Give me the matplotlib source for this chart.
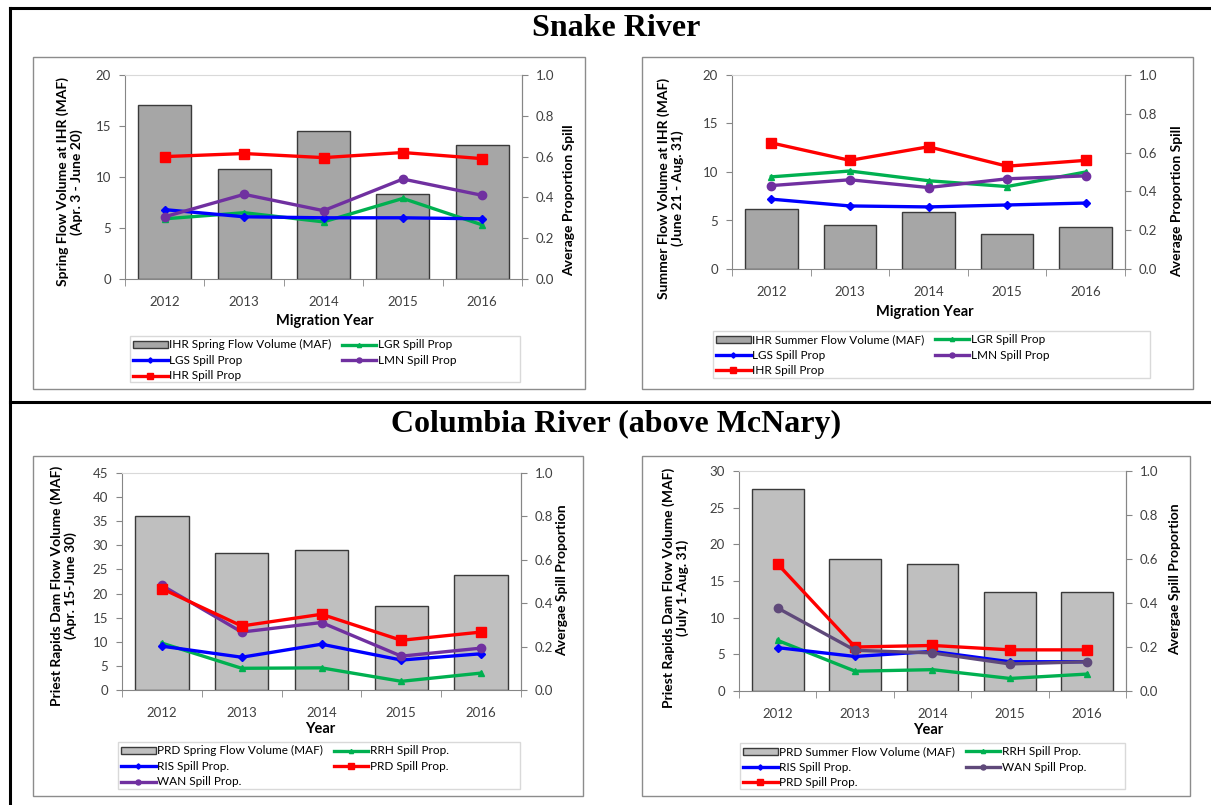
import matplotlib.pyplot as plt
import matplotlib.patches as mpatches
import matplotlib.lines as mlines
import numpy as np

W, H = 1211, 805

years = ["2012", "2013", "2014", "2015", "2016"]

# Snake River - spring
snake_spring_flow = [17.1, 10.8, 14.5, 8.3, 13.1]
snake_spring_lgr = [0.295, 0.325, 0.28, 0.395, 0.265]
snake_spring_lgs = [0.34, 0.305, 0.30, 0.30, 0.295]
snake_spring_lmn = [0.305, 0.415, 0.335, 0.49, 0.41]
snake_spring_ihr = [0.60, 0.615, 0.595, 0.62, 0.59]

# Snake River - summer
snake_summer_flow = [6.2, 4.5, 5.9, 3.6, 4.3]
snake_summer_lgr = [0.475, 0.505, 0.455, 0.425, 0.50]
snake_summer_lgs = [0.36, 0.325, 0.32, 0.33, 0.34]
snake_summer_lmn = [0.43, 0.46, 0.42, 0.465, 0.48]
snake_summer_ihr = [0.65, 0.56, 0.63, 0.53, 0.56]

# Columbia River - spring
col_spring_flow = [36.0, 28.5, 29.0, 17.5, 23.8]
col_spring_rrh = [0.216, 0.10, 0.102, 0.04, 0.078]
col_spring_ris = [0.202, 0.151, 0.211, 0.138, 0.167]
col_spring_prd = [0.467, 0.295, 0.349, 0.229, 0.267]
col_spring_wan = [0.482, 0.267, 0.311, 0.156, 0.193]

# Columbia River - summer
col_summer_flow = [27.5, 18.0, 17.3, 13.5, 13.5]
col_summer_rrh = [0.23, 0.09, 0.097, 0.057, 0.077]
col_summer_ris = [0.197, 0.157, 0.18, 0.133, 0.133]
col_summer_wan = [0.377, 0.185, 0.173, 0.123, 0.133]
col_summer_prd = [0.577, 0.20, 0.207, 0.187, 0.187]

plt.rcParams['font.family'] = ['Lato', 'DejaVu Sans']

fig = plt.figure(figsize=(W / 100, H / 100), dpi=100)

GREEN = "#00b050"
BLUE = "#0000ff"
RED = "#ff0000"
PURPLE = "#7030a0"
DARKPURPLE = "#5f497a"
AXGRAY = "#868686"


def px_rect(x0, y0, x1, y1):
    return [x0 / W, 1 - y1 / H, (x1 - x0) / W, (y1 - y0) / H]


def fig_box(x0, y0, x1, y1, color, lw=1.0):
    fig.patches.append(mpatches.Rectangle((x0 / W, 1 - y1 / H), (x1 - x0) / W,
                                          (y1 - y0) / H, transform=fig.transFigure,
                                          fill=False, edgecolor=color, lw=lw))


def panel(rect, flow, ymax, ystep, bar_color, series, bar_label, xlabel,
          ylabel, ylabel_pos, rlabel, rlabel_pos, xlabel_pos, leg_rect, frame):
    fig_box(*frame, "#8c8c8c")
    ax = fig.add_axes(px_rect(*rect))
    x = np.arange(len(years))
    bars = ax.bar(x, flow, width=0.67, color=bar_color, edgecolor="#3a3a3a",
                  linewidth=1.0, label=bar_label)
    ax.set_xlim(-0.5, len(years) - 0.5)
    ax.set_ylim(0, ymax)
    ax.set_yticks(np.arange(0, ymax + 0.1, ystep))
    ax.set_xticks(x)
    ax.set_xticklabels(years)
    ax.set_xticks(np.arange(-0.5, len(years)), minor=True)
    ax.tick_params(axis="x", which="major", length=0, pad=12, labelsize=9.5,
                   colors="#404040")
    ax.tick_params(axis="x", which="minor", length=5, color=AXGRAY, direction="out")
    ax.tick_params(axis="y", length=4, color=AXGRAY, labelsize=9.5,
                   labelcolor="#404040", pad=6)
    for s in ["left", "bottom"]:
        ax.spines[s].set_color(AXGRAY)
    ax.spines["top"].set_color("#d9d9d9")
    ax.spines["right"].set_color(AXGRAY)

    ax2 = ax.twinx()
    ax2.set_ylim(0, 1)
    ax2.set_yticks(np.arange(0, 1.01, 0.2))
    ax2.set_yticklabels([f"{v:.1f}" for v in np.arange(0, 1.01, 0.2)])
    ax2.tick_params(axis="y", length=4, color=AXGRAY, labelsize=9.5,
                    labelcolor="#404040", pad=6)
    for s in ax2.spines.values():
        s.set_visible(False)
    ax2.spines["right"].set_visible(True)
    ax2.spines["right"].set_color(AXGRAY)

    handles = {}
    for name, vals, color, marker, ms in series:
        ln, = ax2.plot(x, vals, color=color, lw=2.4, marker=marker, markersize=ms,
                       label=name)
        handles[name] = ln

    fig.text(ylabel_pos[0] / W, 1 - ylabel_pos[1] / H, ylabel, rotation=90,
             ha="center", va="center", fontsize=10, fontweight="bold",
             linespacing=1.1)
    fig.text(rlabel_pos[0] / W, 1 - rlabel_pos[1] / H, rlabel, rotation=90,
             ha="center", va="center", fontsize=10, fontweight="bold")
    fig.text(xlabel_pos[0] / W, 1 - xlabel_pos[1] / H, xlabel, ha="center",
             va="center", fontsize=10.5, fontweight="bold")

    # legend: frame drawn separately, entries placed in two columns
    lx0, ly0, lx1, ly1 = leg_rect
    fig_box(lx0, ly0, lx1, ly1, "#d9d9d9")
    leg_handles = [bars] + [handles[series[i][0]] for i in (1, 2)] + \
                  [handles[series[i][0]] for i in (0, 3)]
    fig.legend(leg_handles, [h.get_label() for h in leg_handles], ncol=2,
               loc="upper left", bbox_to_anchor=((lx0 + 1) / W, 1 - (ly0 + 1) / H),
               borderaxespad=0, fontsize=8.5, handlelength=2.9, handleheight=0.55,
               labelspacing=0.38, handletextpad=0.15, frameon=False,
               borderpad=0.2, columnspacing=0.9, markerscale=0.6)
    return ax


# Snake spring
panel((125, 75, 522, 279), snake_spring_flow, 20, 5, "#a6a6a6",
      [("LGR Spill Prop", snake_spring_lgr, GREEN, "^", 5),
       ("LGS Spill Prop", snake_spring_lgs, BLUE, "D", 4.5),
       ("IHR Spill Prop", snake_spring_ihr, RED, "s", 6.5),
       ("LMN Spill Prop", snake_spring_lmn, PURPLE, "o", 6)],
      "IHR Spring Flow Volume (MAF)", "Migration Year",
      "Spring Flow Volume at IHR (MAF)\n(Apr. 3 - June 20)", (70, 182),
      "Average Proportion Spill", (569, 200), (325, 321),
      (130, 336, 520, 382), (33, 57, 585, 389))

# Snake summer
panel((732, 75, 1125, 269), snake_summer_flow, 20, 5, "#a6a6a6",
      [("LGR Spill Prop", snake_summer_lgr, GREEN, "^", 5),
       ("LGS Spill Prop", snake_summer_lgs, BLUE, "D", 4.5),
       ("IHR Spill Prop", snake_summer_ihr, RED, "s", 6.5),
       ("LMN Spill Prop", snake_summer_lmn, PURPLE, "o", 6)],
      "IHR Summer Flow Volume (MAF)", "Migration Year",
      "Summer Flow Volume at IHR (MAF)\n(June 21 - Aug. 31)", (671, 188),
      "Average Proportion Spill", (1177, 201), (925, 312),
      (713, 331, 1150, 378), (642, 57, 1193, 389))

# Columbia spring
panel((122, 473, 521, 690), col_spring_flow, 45, 5, "#bfbfbf",
      [("RRH Spill Prop.", col_spring_rrh, GREEN, "^", 5),
       ("RIS Spill Prop.", col_spring_ris, BLUE, "D", 4.5),
       ("WAN Spill Prop.", col_spring_wan, PURPLE, "o", 6),
       ("PRD Spill Prop.", col_spring_prd, RED, "s", 6.5)],
      "PRD Spring Flow Volume (MAF)", "Year",
      "Priest Rapids Dam Flow Volume (MAF)\n(Apr. 15-June 30)", (64, 586),
      "Avergae Spill Proportion", (562, 580), (320, 729),
      (118, 742, 520, 789), (33, 456, 583, 796))

# Columbia summer
panel((739, 471, 1126, 691), col_summer_flow, 30, 5, "#bfbfbf",
      [("RRH Spill Prop.", col_summer_rrh, GREEN, "^", 5),
       ("RIS Spill Prop.", col_summer_ris, BLUE, "D", 4.5),
       ("PRD Spill Prop.", col_summer_prd, RED, "s", 6.5),
       ("WAN Spill Prop.", col_summer_wan, DARKPURPLE, "o", 6)],
      "PRD Summer Flow Volume (MAF)", "Year",
      "Priest Rapids Dam Flow Volume (MAF)\n(July 1-Aug. 31)", (676, 588),
      "Avergae Spill Proportion", (1175, 579), (928, 730),
      (740, 743, 1125, 789), (642, 456, 1190, 796))

# section titles
fig.text(616 / W, 1 - 28 / H, "Snake River", ha="center", va="center",
         fontsize=23, fontweight="bold", family="Liberation Serif")
fig.text(616 / W, 1 - 424 / H, "Columbia River (above McNary)", ha="center",
         va="center", fontsize=23, fontweight="bold", family="Liberation Serif")

# table borders
for xs, ys in [((10 / W, 1), (1 - 8 / H, 1 - 8 / H)),
               ((10 / W, 10 / W), (1 - 8 / H, 0)),
               ((10 / W, 1), (1 - 402 / H, 1 - 402 / H))]:
    fig.lines.append(mlines.Line2D(xs, ys, transform=fig.transFigure,
                                   color="black", lw=2.2))

fig.savefig("out.png", dpi=100)
